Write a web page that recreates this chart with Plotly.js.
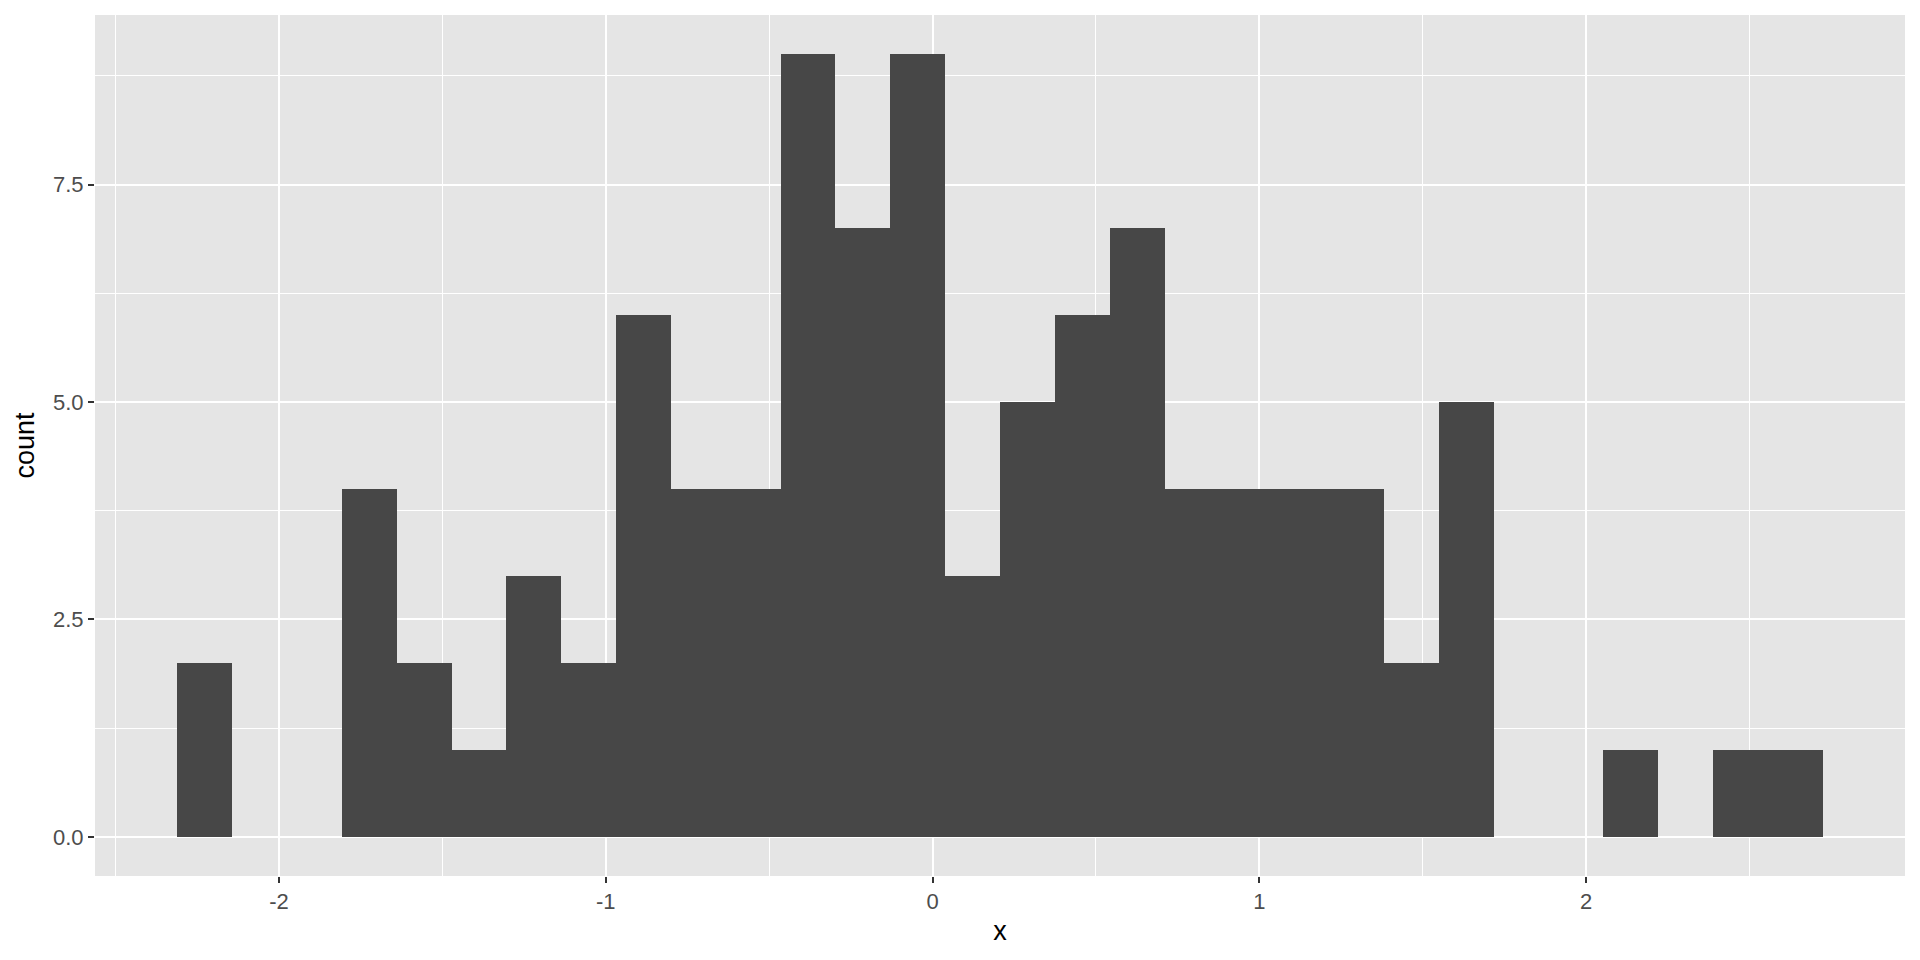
<!DOCTYPE html>
<html>
<head>
<meta charset="utf-8">
<script src="https://cdn.plot.ly/plotly-3.0.1.min.js"></script>
<style>html,body{margin:0;padding:0;background:#fff;}#chart{width:1920px;height:960px;}</style>
</head>
<body>
<div id="chart"></div>
<script>
// Histogram bins (30 bins)
const binStart = -2.311;
const binWidth = 0.16783;
const counts = [2, 0, 0, 4, 2, 1, 3, 2, 6, 4, 4, 9, 7, 9, 3, 5, 6, 7, 4, 4, 4, 4, 2, 5, 0, 0, 1, 0, 1, 1];

const xTickVals = [-2, -1, 0, 1, 2];
const xTickText = ["-2", "-1", "0", "1", "2"];
const yTickVals = [0, 2.5, 5, 7.5];
const yTickText = ["0.0", "2.5", "5.0", "7.5"];

const centers = counts.map((c, i) => binStart + (i + 0.5) * binWidth);
const binEnd = binStart + counts.length * binWidth;
const xPad = (binEnd - binStart) * 0.05;
const yMax = Math.max(...counts);
const yPad = yMax * 0.05;

const trace = {
  type: 'bar',
  x: centers,
  y: counts,
  width: counts.map(() => binWidth),
  marker: {color: '#474747', line: {width: 0}},
  hoverinfo: 'x+y'
};

const tickFont = {family: 'Liberation Sans, Arial, sans-serif', size: 22, color: '#4d4d4d'};
const titleFont = {family: 'Liberation Sans, Arial, sans-serif', size: 27, color: '#000000'};

const layout = {
  width: 1920, height: 960,
  margin: {l: 95, r: 15, t: 15, b: 84},
  paper_bgcolor: '#ffffff',
  plot_bgcolor: '#e5e5e5',
  showlegend: false,
  bargap: 0,
  xaxis: {
    range: [binStart - xPad, binEnd + xPad],
    tickvals: xTickVals, ticktext: xTickText,
    ticks: 'outside', ticklen: 6, tickwidth: 2, tickcolor: '#333333',
    showgrid: true, gridcolor: '#ffffff', gridwidth: 2,
    minor: {dtick: 0.5, tick0: 0.5, showgrid: true, gridcolor: '#ffffff', gridwidth: 1, ticks: ''},
    zeroline: false, showline: false,
    tickfont: tickFont,
    title: {text: 'x', font: titleFont, standoff: 7}
  },
  yaxis: {
    range: [-yPad, yMax + yPad],
    tickvals: yTickVals, ticktext: yTickText,
    ticks: 'outside', ticklen: 6, tickwidth: 2, tickcolor: '#333333',
    showgrid: true, gridcolor: '#ffffff', gridwidth: 2,
    minor: {dtick: 1.25, tick0: 1.25, showgrid: true, gridcolor: '#ffffff', gridwidth: 1, ticks: ''},
    zeroline: false, showline: false,
    tickfont: tickFont,
    title: {text: 'count', font: titleFont, standoff: 10}
  }
};

Plotly.newPlot('chart', [trace], layout, {displayModeBar: false, staticPlot: true});
</script>
</body>
</html>
